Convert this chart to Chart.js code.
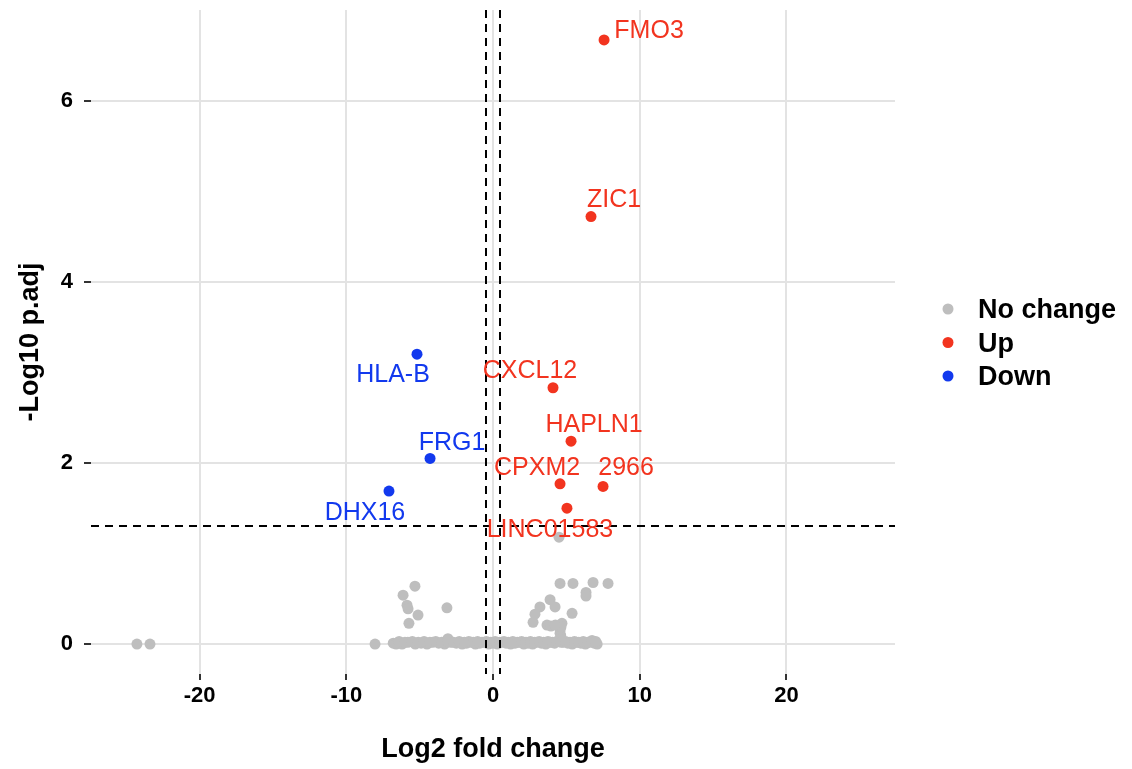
<!DOCTYPE html>
<html>
<head>
<meta charset="utf-8">
<script src="https://cdn.jsdelivr.net/npm/chart.js@4/dist/chart.umd.min.js"></script>
<style>
    html, body { margin: 0; padding: 0; background: #ffffff; }
    #volcano { display: block; }
</style>
</head>
<body>
<canvas id="volcano" width="1132" height="769"></canvas>
<script>
// values
var upGenes = ['FMO3', 'ZIC1', 'CXCL12', 'HAPLN1', 'CPXM2', '2966', 'LINC01583'];
var upLogFC = [7.57, 6.68, 4.09, 5.32, 4.57, 7.50, 5.04];
var upNegLogP = [6.67, 4.72, 2.83, 2.24, 1.77, 1.74, 1.50];

var downGenes = ['HLA-B', 'FRG1', 'DHX16'];
var downLogFC = [-5.18, -4.29, -7.09];
var downNegLogP = [3.20, 2.05, 1.69];

var noChangeLogFC = [
    -24.27, -23.38, -8.04,
    -5.32, -6.13, -5.86, -5.79, -5.11, -5.73, -3.14, -3.07,
    4.50,
    4.57, 5.45, 6.82, 7.84, 6.34, 6.34, 3.89, 3.20, 4.23, 5.39, 2.86, 2.73, 3.68, 4.70, 4.57, 6.75,
    4.60, 4.62, 4.58, 4.63, 3.95, 4.25,
    -6.8, -6.6, -6.2, -5.8, -5.3, -4.9, -4.5, -4.1, -3.7, -3.3, -2.9, -2.5, -2.1, -1.8, -1.5, -1.2, -0.9,
    -0.6, -0.3, 0.0, 0.3, 0.6, 0.9, 1.2, 1.5, 1.8, 2.1, 2.4, 2.7, 3.0, 3.3, 3.6, 3.9, 4.2, 4.5,
    4.8, 5.1, 5.4, 5.7, 6.0, 6.3, 6.6, 6.9, 7.1,
    -6.4, -6.0, -5.5, -5.1, -4.7, -4.3, -3.9, -3.5, -3.1, -2.7, -2.3, -1.95, -1.65, -1.35, -1.05, -0.75,
    -0.45, -0.15, 0.15, 0.45, 0.75, 1.05, 1.35, 1.65, 1.95, 2.25, 2.55, 2.85, 3.15, 3.45, 3.75, 4.05, 4.35,
    4.65, 4.95, 5.25, 5.55, 5.85, 6.15, 6.45, 6.75, 7.0
];
var noChangeNegLogP = [
    0, 0, 0,
    0.64, 0.54, 0.43, 0.39, 0.32, 0.23, 0.40, 0.06,
    1.18,
    0.67, 0.67, 0.68, 0.67, 0.57, 0.53, 0.49, 0.41, 0.41, 0.34, 0.33, 0.24, 0.21, 0.23, 0.12, 0.04,
    0.06, 0.09, 0.16, 0.19, 0.20, 0.21,
    0.01, 0.0, 0.0, 0.02, 0.0, 0.01, 0.0, 0.02, 0.01, 0.0, 0.02, 0.01, 0.0, 0.01, 0.02, 0.0, 0.01,
    0.02, 0.0, 0.01, 0.0, 0.02, 0.01, 0.0, 0.01, 0.02, 0.0, 0.01, 0.0, 0.02, 0.01, 0.0, 0.02, 0.01, 0.03,
    0.02, 0.01, 0.0, 0.02, 0.01, 0.0, 0.02, 0.01, 0.0,
    0.03, 0.02, 0.03, 0.02, 0.03, 0.02, 0.03, 0.02, 0.03, 0.02, 0.03, 0.02, 0.03, 0.02, 0.03, 0.02,
    0.03, 0.02, 0.03, 0.02, 0.03, 0.02, 0.03, 0.02, 0.03, 0.02, 0.03, 0.02, 0.03, 0.02, 0.03, 0.02, 0.03,
    0.02, 0.03, 0.02, 0.03, 0.02, 0.03, 0.02, 0.03, 0.03
];

var xTicks = [-20, -10, 0, 10, 20];
var yTicks = [0, 2, 4, 6];
var fcCutoff = 0.5;
var pCutoff = 1.301;

var groupLabels = ['No change', 'Up', 'Down'];
var groupColors = ['#BEBEBE', '#F2341F', '#1239EE'];

// where each gene name sits relative to its point, in pixels
var labelOffsets = {
    'FMO3': [45, -9], 'ZIC1': [23, -16], 'CXCL12': [-23, -17], 'HAPLN1': [23, -16],
    'CPXM2': [-23, -16], '2966': [23, -18], 'LINC01583': [-17, 22],
    'HLA-B': [-24, 21], 'FRG1': [22, -15], 'DHX16': [-24, 22]
};

function toPoints(xs, ys) {
    return xs.map(function (x, i) { return { x: x, y: ys[i] }; });
}

var cutoffLines = {
    id: 'cutoffLines',
    afterDatasetsDraw: function (chart) {
        var c = chart.ctx;
        var a = chart.chartArea;
        var xs = chart.scales.x;
        var ys = chart.scales.y;
        c.save();
        c.strokeStyle = '#000000';
        c.lineWidth = 2;
        c.setLineDash([8, 6]);
        [-fcCutoff, fcCutoff].forEach(function (v) {
            var px = Math.round(xs.getPixelForValue(v));
            c.beginPath();
            c.moveTo(px, a.top);
            c.lineTo(px, a.bottom);
            c.stroke();
        });
        var py = Math.round(ys.getPixelForValue(pCutoff));
        c.beginPath();
        c.moveTo(a.left, py);
        c.lineTo(a.right, py);
        c.stroke();
        c.restore();
    }
};

var geneLabels = {
    id: 'geneLabels',
    afterDraw: function (chart) {
        var c = chart.ctx;
        var xs = chart.scales.x;
        var ys = chart.scales.y;
        c.save();
        c.font = '25px "Liberation Sans", Arial, sans-serif';
        c.textAlign = 'center';
        c.textBaseline = 'middle';
        function put(names, fx, fy, color) {
            c.fillStyle = color;
            names.forEach(function (name, i) {
                var off = labelOffsets[name] || [0, -18];
                c.fillText(name, xs.getPixelForValue(fx[i]) + off[0], ys.getPixelForValue(fy[i]) + off[1]);
            });
        }
        put(upGenes, upLogFC, upNegLogP, groupColors[1]);
        put(downGenes, downLogFC, downNegLogP, groupColors[2]);

        // legend
        c.textAlign = 'left';
        c.font = 'bold 27px "Liberation Sans", Arial, sans-serif';
        var lx = 948;
        var ly = 309;
        groupLabels.forEach(function (label, i) {
            var y = ly + i * 33.5;
            c.fillStyle = groupColors[i];
            c.beginPath();
            c.arc(lx, y, 5.5, 0, Math.PI * 2);
            c.fill();
            c.fillStyle = '#000000';
            c.fillText(label, 978, y + 2);
        });
        c.restore();
    }
};

var axisText = { size: 22, weight: 'bold', family: '"Liberation Sans", Arial, sans-serif' };
var titleText = { size: 27, weight: 'bold', family: '"Liberation Sans", Arial, sans-serif' };

new Chart(document.getElementById('volcano'), {
    type: 'scatter',
    data: {
        datasets: [
            { label: groupLabels[0], data: toPoints(noChangeLogFC, noChangeNegLogP), backgroundColor: groupColors[0], borderWidth: 0, pointRadius: 5.5 },
            { label: groupLabels[1], data: toPoints(upLogFC, upNegLogP), backgroundColor: groupColors[1], borderWidth: 0, pointRadius: 5.5 },
            { label: groupLabels[2], data: toPoints(downLogFC, downNegLogP), backgroundColor: groupColors[2], borderWidth: 0, pointRadius: 5.5 }
        ]
    },
    options: {
        responsive: false,
        animation: false,
        layout: { padding: { top: 10, right: 237, left: 0, bottom: 0 } },
        plugins: { legend: { display: false }, tooltip: { enabled: false } },
        scales: {
            x: {
                type: 'linear',
                min: -27.4,
                max: 27.4,
                afterBuildTicks: function (scale) { scale.ticks = xTicks.map(function (v) { return { value: v }; }); },
                afterFit: function (scale) { scale.height = 95; scale.paddingLeft = 0; scale.paddingRight = 0; },
                grid: { color: '#E3E3E3', lineWidth: 2, tickColor: '#333333', tickWidth: 2, tickLength: 6 },
                border: { display: false },
                ticks: { color: '#000000', font: axisText, padding: 3, maxRotation: 0 },
                title: { display: true, text: 'Log2 fold change', color: '#000000', font: titleText, padding: { top: 0, bottom: 3 } }
            },
            y: {
                type: 'linear',
                min: -0.33,
                max: 7.0,
                afterBuildTicks: function (scale) { scale.ticks = yTicks.map(function (v) { return { value: v }; }); },
                afterFit: function (scale) { scale.width = 91; scale.paddingTop = 0; scale.paddingBottom = 0; },
                grid: { color: '#E3E3E3', lineWidth: 2, tickColor: '#333333', tickWidth: 2, tickLength: 7 },
                border: { display: false },
                ticks: { color: '#000000', font: axisText, padding: 11 },
                title: { display: true, text: '-Log10 p.adj', color: '#000000', font: titleText, padding: { top: 14, bottom: 0 } }
            }
        }
    },
    plugins: [cutoffLines, geneLabels]
});
</script>
</body>
</html>
